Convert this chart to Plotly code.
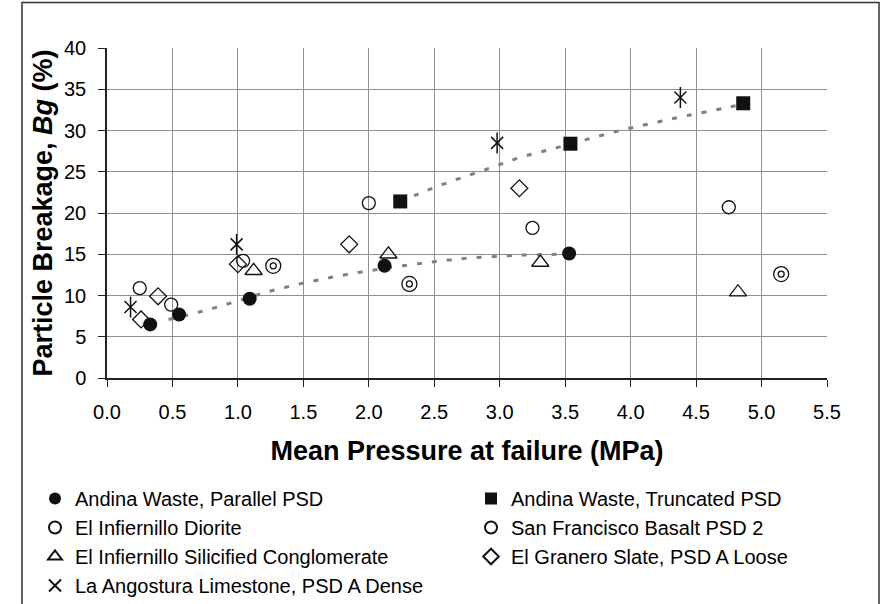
import plotly.graph_objects as go

# ---------------- data ----------------
andina_par_x = [0.33, 0.55, 1.09, 2.12, 3.53]
andina_par_y = [6.5, 7.7, 9.6, 13.6, 15.1]

andina_trunc_x = [2.24, 3.54, 4.86]
andina_trunc_y = [21.4, 28.4, 33.3]

diorite_x = [0.25, 0.49, 1.04, 2.00, 3.25, 4.75]
diorite_y = [10.9, 8.9, 14.2, 21.2, 18.2, 20.7]

basalt_x = [1.27, 2.31, 5.15]
basalt_y = [13.6, 11.4, 12.6]

silicified_x = [1.12, 2.15, 3.31, 4.82]
silicified_y = [13.0, 15.0, 14.0, 10.4]

granero_x = [0.26, 0.39, 1.00, 1.85, 3.15]
granero_y = [7.1, 9.9, 13.8, 16.2, 23.0]

angostura_x = [0.18, 0.99, 2.98, 4.38]
angostura_y = [8.6, 16.2, 28.5, 34.0]

trend_par_x = [0.47, 0.73, 0.99, 1.24, 1.50, 1.75, 2.00, 2.26, 2.67, 3.18, 3.43, 3.53]
trend_par_y = [7.1, 8.1, 9.3, 10.5, 11.5, 12.3, 13.0, 13.6, 14.4, 14.9, 15.0, 15.1]

trend_trunc_x = [2.24, 2.39, 2.64, 2.90, 3.15, 3.41, 3.66, 3.92, 4.17, 4.43, 4.71, 4.86]
trend_trunc_y = [21.3, 22.4, 23.9, 25.3, 26.7, 27.8, 28.9, 30.0, 30.9, 31.8, 32.7, 33.2]

names = [
    "Andina Waste, Parallel PSD",
    "Andina Waste, Truncated PSD",
    "El Infiernillo Diorite",
    "San Francisco Basalt PSD 2",
    "El Infiernillo Silicified Conglomerate",
    "El Granero Slate, PSD A Loose",
    "La Angostura Limestone, PSD A Dense",
]

x_ticks = [0.0, 0.5, 1.0, 1.5, 2.0, 2.5, 3.0, 3.5, 4.0, 4.5, 5.0, 5.5]
y_ticks = [0, 5, 10, 15, 20, 25, 30, 35, 40]

# ---------------- layout geometry ----------------
W, H = 889, 604
ML, MR, MT, MB = 107, 10, 48, 226
PW = W - ML - MR          # paper width in px
PH = H - MT - MB          # paper height in px
PLOT_W = 720              # plotting area width in px


def px_x(p):
    return (p - ML) / PW


def px_y(p):
    return (MT + PH - p) / PH


FONT = "Liberation Sans, Arial, sans-serif"
BLACK = "#111111"
OPEN_LINE = dict(color=BLACK, width=1.3)
GRID = "#8f8f8f"

fig = go.Figure()

# trend lines (drawn first)
for tx, ty in [(trend_par_x, trend_par_y), (trend_trunc_x, trend_trunc_y)]:
    fig.add_trace(go.Scatter(
        x=tx, y=ty, mode="lines", showlegend=False, hoverinfo="skip",
        line=dict(color="#808080", width=3, dash="5px,10px", shape="spline"),
    ))

fig.add_trace(go.Scatter(
    x=andina_par_x, y=andina_par_y, mode="markers", name=names[0], legendrank=1,
    marker=dict(symbol="circle", size=14, color=BLACK, line=dict(width=0)),
))
fig.add_trace(go.Scatter(
    x=andina_trunc_x, y=andina_trunc_y, mode="markers", name=names[1], legendrank=2,
    marker=dict(symbol="square", size=14, color=BLACK, line=dict(width=0)),
))
fig.add_trace(go.Scatter(
    x=diorite_x, y=diorite_y, mode="markers", name=names[2], legendrank=3,
    marker=dict(symbol="circle-open", size=13, color=BLACK, line=OPEN_LINE),
))
fig.add_trace(go.Scatter(
    x=basalt_x, y=basalt_y, mode="markers", name=names[3], legendrank=4,
    marker=dict(symbol="circle-open", size=15, color=BLACK, line=OPEN_LINE),
))
fig.add_trace(go.Scatter(
    x=basalt_x, y=basalt_y, mode="markers", showlegend=False, hoverinfo="skip",
    marker=dict(symbol="circle-open", size=6, color=BLACK, line=OPEN_LINE),
))
fig.add_trace(go.Scatter(
    x=silicified_x, y=silicified_y, mode="markers", name=names[4], legendrank=5,
    marker=dict(symbol="triangle-up-open", size=15, color=BLACK, line=OPEN_LINE),
))
fig.add_trace(go.Scatter(
    x=granero_x, y=granero_y, mode="markers", name=names[5], legendrank=6,
    marker=dict(symbol="diamond-open", size=13, color=BLACK, line=OPEN_LINE),
))
fig.add_trace(go.Scatter(
    x=angostura_x, y=angostura_y, mode="markers", name=names[6], legendrank=7,
    marker=dict(symbol="x-thin-open", size=12, color=BLACK, line=dict(color=BLACK, width=1.5)),
))
fig.add_trace(go.Scatter(
    x=angostura_x, y=angostura_y, mode="markers", showlegend=False, hoverinfo="skip",
    marker=dict(symbol="line-ns-open", size=15, color=BLACK, line=dict(color=BLACK, width=1.5)),
))

fig.update_layout(
    width=W, height=H,
    margin=dict(l=ML, r=MR, t=MT, b=MB, autoexpand=False),
    paper_bgcolor="white", plot_bgcolor="white",
    font=dict(family=FONT, color="black", size=20),
    showlegend=True,
    legend=dict(
        orientation="h",
        x=px_x(35), xanchor="left",
        y=px_y(479), yanchor="top",
        entrywidth=391, entrywidthmode="pixels",
        font=dict(family=FONT, size=20, color="black"),
        bgcolor="rgba(0,0,0,0)", borderwidth=0,
        itemwidth=30, itemsizing="constant", traceorder="normal",
    ),
    xaxis=dict(
        domain=[0, PLOT_W / PW],
        range=[0, 5.5], tickvals=x_ticks, ticktext=[f"{v:.1f}" for v in x_ticks],
        showgrid=True, gridcolor=GRID, gridwidth=1,
        showline=True, linecolor="#222222", linewidth=1.5,
        ticks="outside", ticklen=7, tickcolor="#222222", tickwidth=1.2,
        zeroline=False,
        tickfont=dict(family=FONT, size=20, color="black"),
        ticklabelstandoff=8,
        title=dict(text="<b>Mean Pressure at failure (MPa)</b>",
                   font=dict(family=FONT, size=27, color="black"), standoff=19),
        automargin=False,
    ),
    yaxis=dict(
        range=[0, 40], tickvals=y_ticks,
        showgrid=True, gridcolor=GRID, gridwidth=1,
        showline=True, linecolor="#222222", linewidth=1.5,
        ticks="outside", ticklen=7, tickcolor="#222222", tickwidth=1.2,
        zeroline=False,
        tickfont=dict(family=FONT, size=20, color="black"),
        ticklabelstandoff=8,
        title=dict(text="<b>Particle Breakage, <i>Bg</i> (%)</b>",
                   font=dict(family=FONT, size=27, color="black"), standoff=4),
        automargin=False,
    ),
    shapes=[
        dict(type="rect", xref="paper", yref="paper",
             x0=px_x(22), x1=px_x(879), y0=px_y(612), y1=px_y(2.5),
             line=dict(color="#333333", width=1.5), fillcolor="rgba(0,0,0,0)", layer="below"),
    ],
)

fig.write_html("out.html")
